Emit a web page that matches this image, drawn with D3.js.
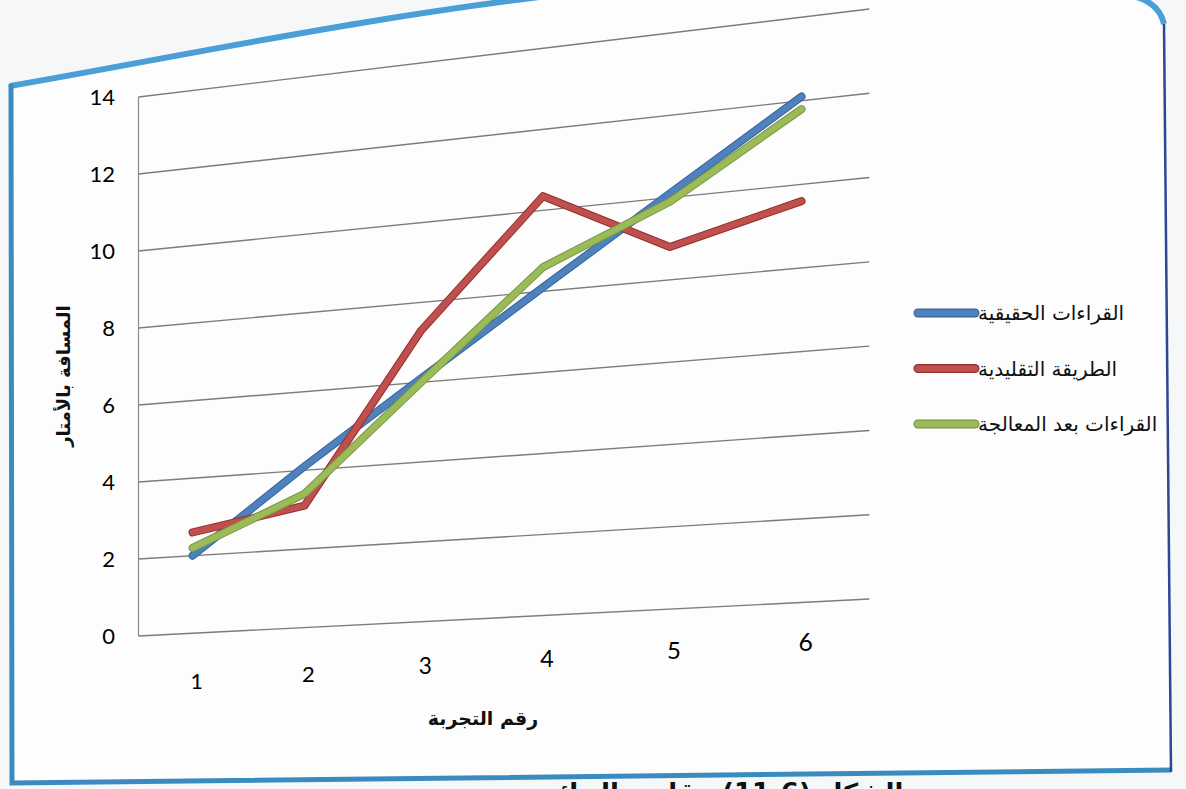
<!DOCTYPE html>
<html lang="ar">
<head>
  <meta charset="UTF-8">
  <title>مقارنة القراءات</title>
  <script src="https://cdn.jsdelivr.net/npm/d3@7/dist/d3.min.js"></script>
  <style>
    html, body {
      margin: 0;
      padding: 0;
      background: #f6f7f9;
    }
    svg { display: block; }
  </style>
</head>
<body>
  <svg id="chart" width="1186" height="789"></svg>
  <script>
    // data
    const categories = ['1', '2', '3', '4', '5', '6'];
    const actualReadings = [2, 4.1, 6.1, 8.1, 10.1, 12.1];
    const traditionalMethod = [2.6, 3.1, 7.3, 10.35, 8.8, 9.6];
    const processedReadings = [2.2, 3.4, 6.0, 8.6, 9.9, 11.8];
    const seriesNames = ['القراءات الحقيقية', 'الطريقة التقليدية', 'القراءات بعد المعالجة'];
    const yTitle = 'المسافة بالأمتار';
    const xTitle = 'رقم التجربة';
    const caption = 'الشكل (6-11) مقارنة النتائج';

    const series = [actualReadings, traditionalMethod, processedReadings];
    const fills = ['#4f81bd', '#c0504d', '#9bbb59'];
    const edges = ['#35649e', '#94302e', '#7a9840'];

    const svg = d3.select('#chart');

    // flat chart coords: u 0..1 across the plot, w 0..1 up the plot
    const x = d3.scalePoint().domain(categories).range([0, 1]).padding(0.5);
    const y = d3.scaleLinear().domain([0, 14]).range([0, 1]);

    // the page was photographed at an angle, so bend the flat chart onto it
    const warp = (u, w) => {
      const px = 138.5 + 641.5 * u + 89.3 * u * u;
      const t = (px - 138.5) / 730.8;
      const py = (636 - 539 * w) * (1 - t) + (599 - 590 * w) * t;
      return [px, py];
    };

    // frame of the figure
    svg.append('path')
      .attr('d', 'M10,86 C300,36 700,-60 1100,-12 L1140,-2 Q1160,6 1164,24 L1171,770 L14,783 Z')
      .attr('fill', '#fdfdfe')
      .attr('stroke', 'none');
    svg.append('path')
      .attr('d', 'M10,86 C300,36 700,-60 1100,-12 L1140,-2 Q1160,6 1164,24')
      .attr('fill', 'none').attr('stroke', '#4aa0d6').attr('stroke-width', 6);
    svg.append('path')
      .attr('d', 'M11,84 L12,783 L1171,770')
      .attr('fill', 'none').attr('stroke', '#3a8cbf').attr('stroke-width', 5);
    svg.append('path')
      .attr('d', 'M1164,24 L1171,772')
      .attr('fill', 'none').attr('stroke', '#2b4796').attr('stroke-width', 2.5);

    const plot = svg.append('g');

    // gridlines and value labels
    const ticks = y.ticks(7);
    plot.selectAll('line.grid')
      .data(ticks)
      .enter()
      .append('line')
      .attr('class', 'grid')
      .attr('x1', d => warp(0, y(d))[0])
      .attr('y1', d => warp(0, y(d))[1])
      .attr('x2', d => warp(1, y(d))[0])
      .attr('y2', d => warp(1, y(d))[1])
      .attr('stroke', '#7c7c7c')
      .attr('stroke-width', 1.4);

    plot.append('line')
      .attr('x1', warp(0, 0)[0]).attr('y1', warp(0, 0)[1])
      .attr('x2', warp(0, 1)[0]).attr('y2', warp(0, 1)[1])
      .attr('stroke', '#8a8a8a')
      .attr('stroke-width', 1.2);

    plot.selectAll('text.ytick')
      .data(ticks)
      .enter()
      .append('text')
      .attr('class', 'ytick')
      .attr('x', 115)
      .attr('y', d => warp(0, y(d))[1] + 2)
      .attr('text-anchor', 'end')
      .attr('dominant-baseline', 'middle')
      .attr('font-family', 'Lato, sans-serif')
      .attr('font-size', 22)
      .attr('fill', '#000')
      .text(d => d);

    plot.selectAll('text.xtick')
      .data(categories)
      .enter()
      .append('text')
      .attr('class', 'xtick')
      .attr('x', d => warp(x(d), 0)[0] + 4)
      .attr('y', d => warp(x(d), 0)[1] + 51 - 10 * x(d))
      .attr('text-anchor', 'middle')
      .attr('dominant-baseline', 'middle')
      .attr('font-family', 'Lato, sans-serif')
      .attr('font-size', d => 21 + 4 * x(d))
      .attr('fill', '#000')
      .text(d => d);

    // series lines, drawn with a darker rim like the printed chart
    const line = d3.line()
      .x(d => warp(x(d.c), y(d.v))[0])
      .y(d => warp(x(d.c), y(d.v))[1]);

    series.forEach((vals, i) => {
      const pts = vals.map((v, j) => ({c: categories[j], v}));
      plot.append('path')
        .attr('d', line(pts))
        .attr('fill', 'none')
        .attr('stroke', edges[i])
        .attr('stroke-width', 8)
        .attr('stroke-linejoin', 'round')
        .attr('stroke-linecap', 'round');
      plot.append('path')
        .attr('d', line(pts))
        .attr('fill', 'none')
        .attr('stroke', fills[i])
        .attr('stroke-width', 6)
        .attr('stroke-linejoin', 'round')
        .attr('stroke-linecap', 'round');
    });

    // legend
    const legend = svg.append('g');
    seriesNames.forEach((name, i) => {
      const ly = 313 + i * 55.5;
      legend.append('line')
        .attr('x1', 918).attr('x2', 975).attr('y1', ly).attr('y2', ly)
        .attr('stroke', edges[i]).attr('stroke-width', 9).attr('stroke-linecap', 'round');
      legend.append('line')
        .attr('x1', 918).attr('x2', 975).attr('y1', ly).attr('y2', ly)
        .attr('stroke', fills[i]).attr('stroke-width', 6.5).attr('stroke-linecap', 'round');
      legend.append('text')
        .attr('x', 978)
        .attr('y', ly + 7)
        .attr('font-family', 'DejaVu Sans, sans-serif')
        .attr('font-size', 20)
        .attr('fill', '#111')
        .text(name);
    });

    // axis titles and caption
    svg.append('text')
      .attr('transform', 'translate(70,376) rotate(-90)')
      .attr('text-anchor', 'middle')
      .attr('font-family', 'DejaVu Sans, sans-serif')
      .attr('font-weight', 'bold')
      .attr('font-size', 18)
      .attr('fill', '#111')
      .text(yTitle);

    svg.append('text')
      .attr('x', 483)
      .attr('y', 725)
      .attr('text-anchor', 'middle')
      .attr('font-family', 'DejaVu Sans, sans-serif')
      .attr('font-weight', 'bold')
      .attr('font-size', 19)
      .attr('fill', '#111')
      .text(xTitle);

    // caption runs off the bottom of the photo
    svg.append('text')
      .attr('x', 722)
      .attr('y', 802)
      .attr('text-anchor', 'middle')
      .attr('font-family', 'DejaVu Sans, sans-serif')
      .attr('font-weight', 'bold')
      .attr('font-size', 26)
      .attr('fill', '#111')
      .text(caption);
  </script>
</body>
</html>
